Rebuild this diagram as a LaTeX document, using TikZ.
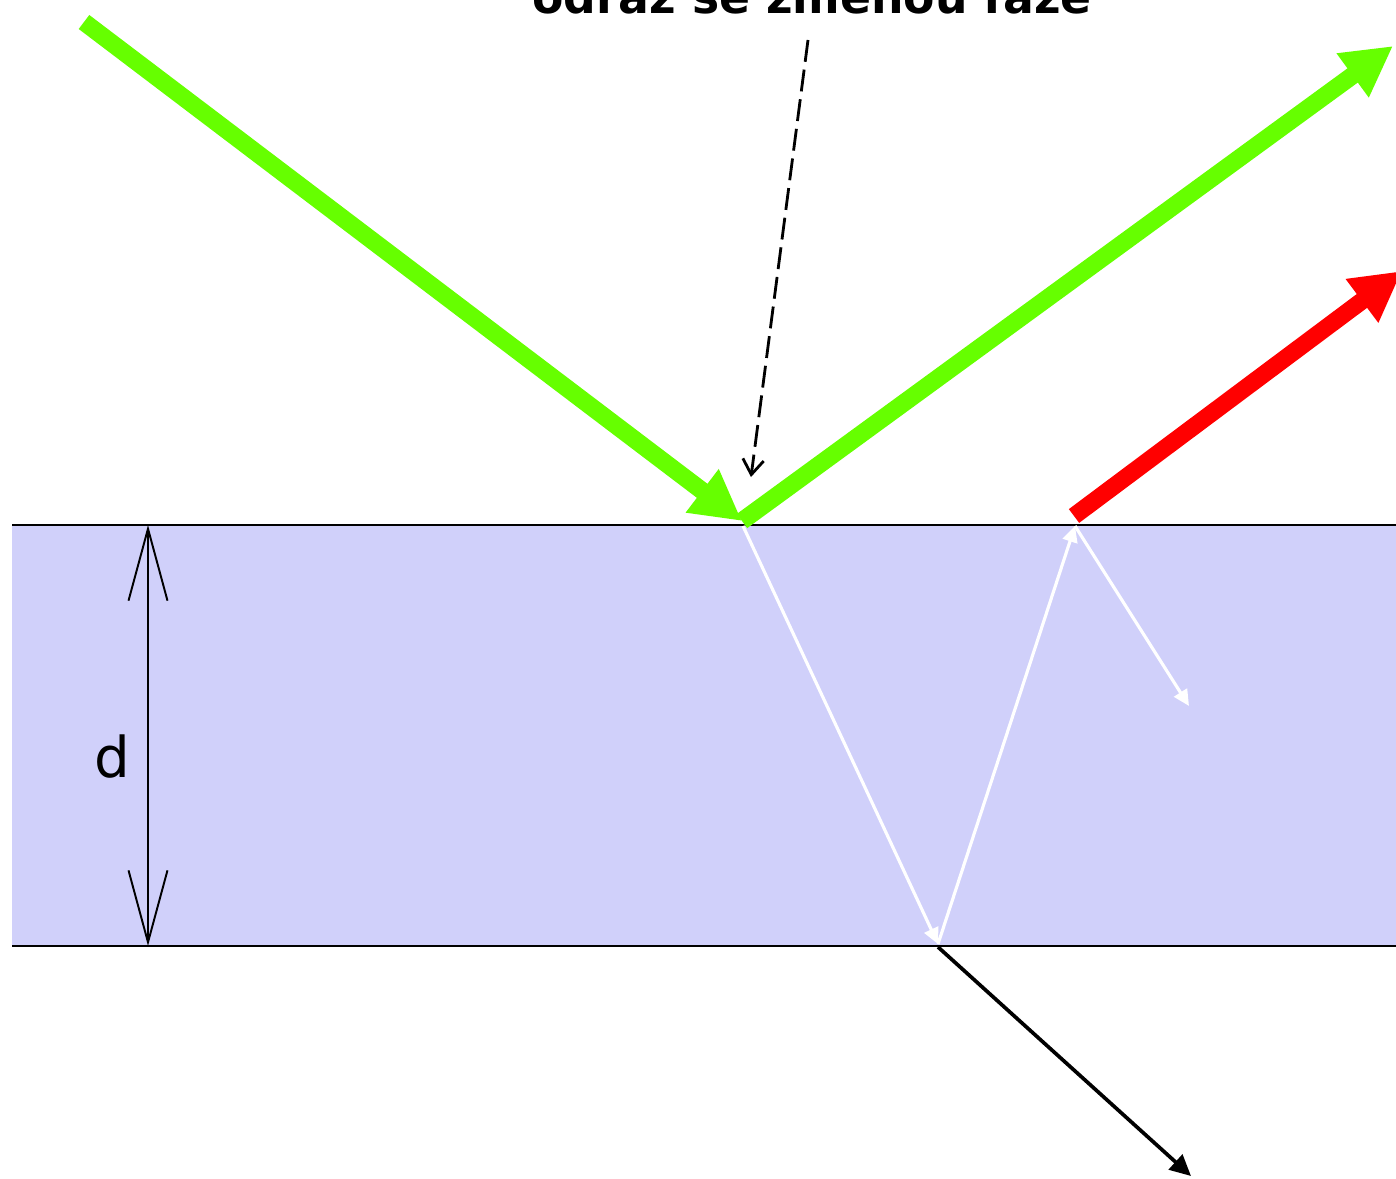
\documentclass[tikz,border=0pt]{standalone}
\usepackage{fontspec}
\setmainfont{DejaVu Sans}
\usetikzlibrary{arrows.meta}
\definecolor{ray}{RGB}{102,255,0}
\definecolor{slab}{RGB}{208,208,250}
\tikzset{
  greenray/.style={draw=ray,line width=10pt,-{Triangle[length=1cm,width=1.02cm]}},
  redray/.style={draw=red,line width=9.8pt,-{Triangle[length=1cm,width=1.02cm]}},
  inray/.style={draw=white,line width=1.8pt,-{Triangle[length=0.32cm,width=0.3cm]}},
  outray/.style={draw=black,line width=2.1pt,-{Triangle[length=0.42cm,width=0.4cm]}},
  surface/.style={draw=black,line width=1.2pt},
  dimline/.style={draw=black,line width=1.1pt,{Straight Barb[length=1.44cm,width=0.78cm]}-{Straight Barb[length=1.44cm,width=0.78cm]}},
  pointer/.style={draw=black,line width=1.6pt,dash pattern=on 12.5pt off 4.5pt,-{Straight Barb[length=0.3cm,width=0.42cm]}}
}
\begin{document}
\begin{tikzpicture}[x=0.02cm,y=-0.02cm]
\useasboundingbox (0,0) rectangle (1396,1179);
% slab
\fill[slab] (12,525) rectangle (1396,946);
\coordinate (tl) at (12,525);
\coordinate (tr) at (1396,525);
\coordinate (bl) at (12,946);
\coordinate (br) at (1396,946);
\draw[surface] (tl) -- (tr);
\draw[surface] (bl) -- (br);
% key points
\coordinate (src) at (84,22);
\coordinate (hit) at (742,521);
\coordinate (refl) at (1393,46);
\coordinate (exit) at (1074,516);
\coordinate (redtip) at (1402,271);
\coordinate (in1) at (743,526);
\coordinate (low) at (938,944);
\coordinate (up) at (1075,526);
\coordinate (down2) at (1189,706);
\coordinate (below) at (938,947);
\coordinate (out) at (1191,1176);
\coordinate (dtop) at (148,525);
\coordinate (dbot) at (148,946);
\coordinate (ptail) at (808,40);
\coordinate (phead) at (751,477);
% rays
\draw[greenray] (src) -- (hit);
\draw[greenray] (hit) -- (refl);
\draw[redray] (exit) -- (redtip);
\draw[inray] (in1) -- (low);
\draw[inray] (low) -- (up);
\draw[inray] (up) -- (down2);
\draw[outray] (below) -- (out);
\draw[dimline] (dtop) -- (dbot);
\draw[pointer] (ptail) -- (phead);
% labels
\node[font=\fontsize{26pt}{30pt}\selectfont\bfseries,anchor=base] (title) at (812,14) {odraz se změnou fáze};
\node[font=\fontsize{32pt}{36pt}\selectfont,anchor=base] (dlab) at (112,777) {d};
\end{tikzpicture}
\end{document}
